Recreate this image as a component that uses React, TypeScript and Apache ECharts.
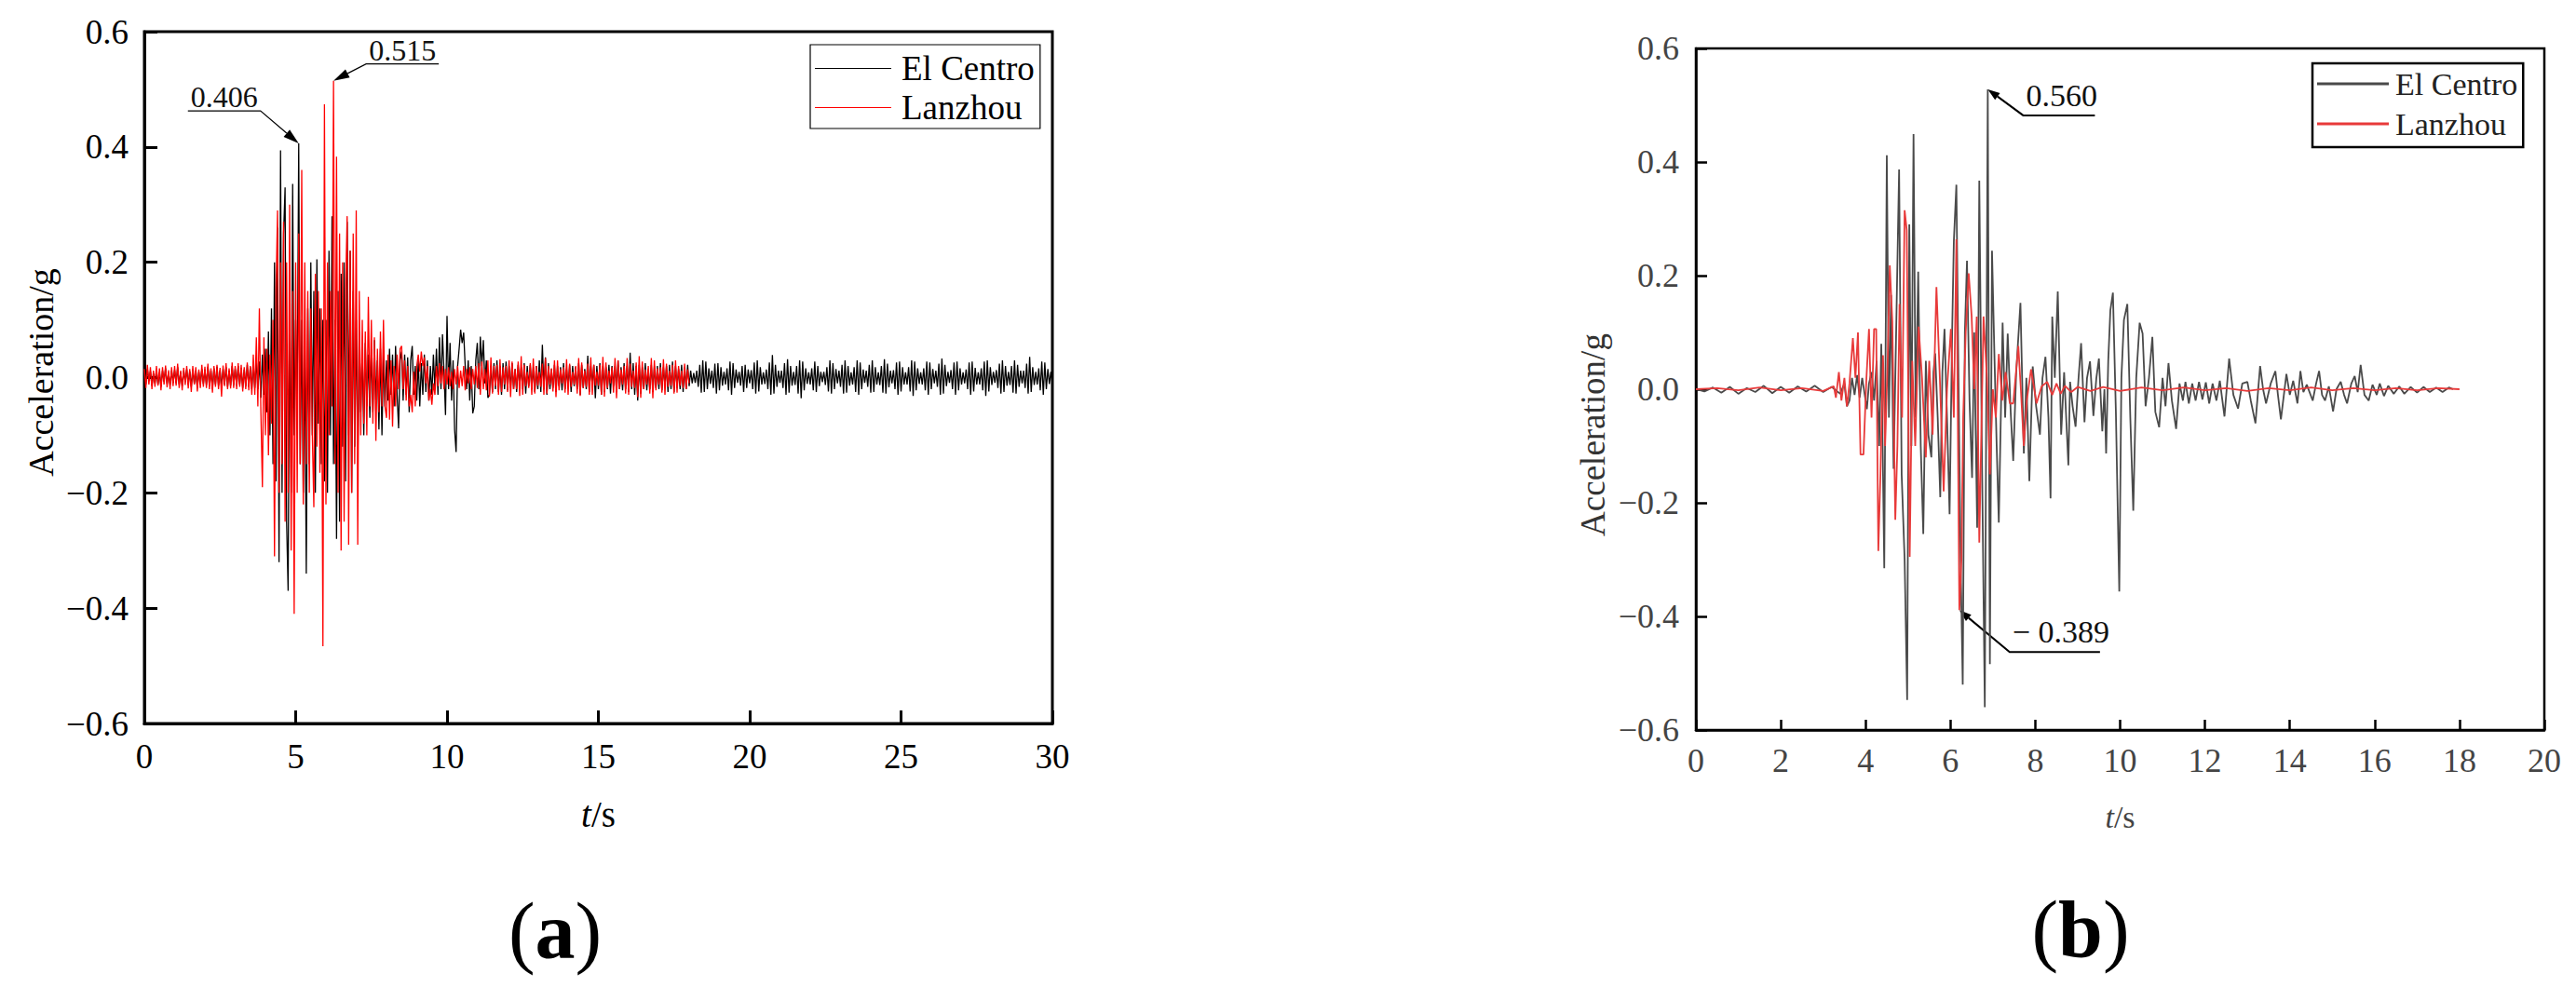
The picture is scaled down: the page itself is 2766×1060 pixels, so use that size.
import React, { useEffect, useRef } from "react";
import * as echarts from "echarts";

const FONT = "'Liberation Serif', 'Times New Roman', serif";

// ---------- Panel (a): sampled every 0.05 s ----------
const DT_A = 0.05;
const elCentroA: number[] = [
  0.008,-0.012,0.015,-0.006,0.011,-0.014,0.007,-0.01,0.013,-0.012,0.009,-0.016,0.012,-0.007,0.016,-0.011,0.008,-0.013,0.012,-0.009,
  0.013,-0.01,0.018,-0.012,0.009,-0.015,0.012,-0.008,0.015,-0.013,0.011,-0.016,0.014,-0.01,0.012,-0.018,0.01,-0.012,0.015,-0.011,
  0.014,-0.013,0.019,-0.015,0.012,-0.02,0.016,-0.012,0.019,-0.014,0.013,-0.017,0.015,-0.012,0.018,-0.016,0.012,-0.014,0.02,-0.013,
  0.015,-0.014,0.02,-0.012,0.017,-0.018,0.014,-0.015,0.022,-0.016,0.018,-0.02,0.025,-0.018,0.03,-0.02,0.028,-0.035,0.04,-0.03,
  0.05,-0.06,0.08,-0.1,0.12,-0.15,0.2,-0.18,0.26,-0.32,0.394,-0.2,0.25,0.33,-0.25,-0.37,0.15,-0.2,0.336,-0.1,
  0.1,-0.05,0.406,-0.15,0.1,-0.2,0.05,-0.34,0.12,-0.15,0.2,-0.1,0.15,-0.2,0.205,-0.08,0.12,-0.15,0.1,-0.18,
  0.1,-0.2,0.22,-0.1,0.28,-0.15,0.1,-0.28,0.15,-0.25,0.18,-0.12,0.2,-0.18,0.27,-0.1,0.22,-0.2,0.15,-0.12,
  0.1,-0.15,0.08,-0.06,0.05,-0.1,0.06,-0.05,0.04,-0.07,0.05,-0.06,0.065,-0.04,0.03,-0.09,0.05,-0.1,0.04,-0.05,
  0.03,-0.04,0.05,-0.03,0.04,-0.05,0.055,-0.03,-0.088,0.03,0.045,-0.04,0.04,-0.03,0.035,-0.06,0.03,0.055,-0.03,0.02,
  -0.04,0.03,-0.05,0.025,-0.03,0.04,-0.025,0.03,-0.04,0.02,-0.03,0.04,-0.02,0.05,-0.03,0.07,-0.02,0.075,0.01,-0.065,
  0.107,-0.02,0.06,-0.04,0.03,-0.09,-0.129,0.02,0.05,0.083,0.06,0.078,0.02,-0.02,0.03,-0.04,0.02,-0.062,-0.05,0.03,
  0.06,-0.02,0.071,0.02,0.065,-0.01,0.03,-0.035,-0.03,0.02,-0.025,0.025,-0.02,0.03,-0.025,0.02,-0.03,0.025,-0.02,0.028,
  -0.022,0.02,-0.018,0.025,-0.02,0.015,-0.025,0.022,-0.015,0.018,-0.02,0.025,-0.028,0.02,-0.015,0.022,-0.02,0.018,-0.025,0.02,
  -0.02,0.03,-0.025,0.057,-0.02,0.035,-0.03,0.025,-0.02,0.015,-0.018,0.022,-0.025,0.02,-0.015,0.018,-0.022,0.025,-0.02,0.015,
  -0.018,0.022,-0.025,0.02,-0.015,0.018,-0.02,0.025,-0.03,0.022,-0.018,0.015,-0.02,0.038,-0.025,0.02,-0.015,0.022,-0.036,0.02,
  -0.02,0.025,-0.03,0.02,-0.025,0.018,-0.02,0.022,-0.028,0.02,-0.015,0.02,-0.025,0.03,-0.02,0.018,-0.022,0.025,-0.02,0.02,
  -0.025,0.043,-0.02,0.025,-0.03,0.02,-0.04,0.022,-0.028,0.018,-0.02,0.025,-0.022,0.015,-0.02,0.022,-0.025,0.02,-0.018,0.02,
  -0.02,0.025,-0.022,0.018,-0.015,0.02,-0.025,0.022,-0.02,0.028,-0.025,0.02,-0.018,0.015,-0.02,0.022,-0.025,0.018,-0.02,0.022,
  -0.015,0.012,-0.01,0.008,-0.009,0.012,-0.016,0.022,-0.026,0.03,-0.025,0.028,-0.02,0.016,-0.011,0.012,-0.018,0.024,-0.028,0.025,
  -0.022,0.018,-0.014,0.01,-0.012,0.016,-0.022,0.028,-0.03,0.025,-0.018,0.014,-0.009,0.01,-0.014,0.02,-0.025,0.022,-0.018,0.014,
  -0.01,0.013,-0.02,0.026,-0.028,0.03,-0.024,0.018,-0.012,0.009,-0.011,0.014,-0.02,0.026,-0.03,0.039,-0.028,0.022,-0.016,0.012,
  -0.009,0.012,-0.018,0.025,-0.03,0.032,-0.026,0.02,-0.014,0.01,-0.013,0.02,-0.028,0.03,-0.036,0.028,-0.022,0.016,-0.011,0.009,
  -0.012,0.016,-0.022,0.028,-0.025,0.02,-0.015,0.01,-0.008,0.01,-0.013,0.018,-0.024,0.03,-0.028,0.025,-0.02,0.015,-0.01,0.012,
  -0.016,0.022,-0.028,0.03,-0.026,0.02,-0.014,0.009,-0.012,0.018,-0.025,0.03,-0.03,0.026,-0.02,0.014,-0.009,0.012,-0.016,0.022,
  -0.026,0.03,-0.025,0.018,-0.012,0.009,-0.013,0.02,-0.026,0.032,-0.028,0.024,-0.017,0.012,-0.01,0.013,-0.02,0.026,-0.03,0.028,
  -0.024,0.018,-0.012,0.009,-0.012,0.018,-0.024,0.03,-0.032,0.028,-0.022,0.016,-0.011,0.009,-0.012,0.016,-0.022,0.028,-0.03,0.026,
  -0.02,0.015,-0.01,0.012,-0.016,0.024,-0.03,0.033,-0.028,0.022,-0.015,0.01,-0.009,0.013,-0.02,0.026,-0.03,0.028,-0.022,0.016,
  -0.012,0.009,-0.01,0.014,-0.02,0.026,-0.03,0.028,-0.024,0.017,-0.012,0.009,-0.012,0.016,-0.022,0.028,-0.032,0.03,-0.024,0.018,
  -0.013,0.01,-0.009,0.013,-0.018,0.024,-0.028,0.03,-0.025,0.02,-0.014,0.01,-0.013,0.02,-0.026,0.03,-0.028,0.022,-0.016,0.012,
  -0.01,0.012,-0.018,0.024,-0.028,0.036,-0.025,0.018,-0.013,0.01,-0.012,0.016,-0.022,0.028,-0.03,0.026,-0.02,0.015,-0.011,0.01,
  -0.012,
];

const lanzhouA: number[] = [
  0.015,-0.018,0.022,-0.012,0.018,-0.02,0.012,-0.016,0.02,-0.014,0.016,-0.022,0.018,-0.012,0.021,-0.017,0.013,-0.02,0.018,-0.015,
  0.02,-0.014,0.024,-0.018,0.012,-0.022,0.017,-0.013,0.02,-0.019,0.015,-0.025,0.02,-0.012,0.018,-0.024,0.014,-0.018,0.022,-0.016,
  0.019,-0.018,0.024,-0.02,0.016,-0.026,0.02,-0.016,0.022,-0.02,0.017,-0.033,0.021,-0.015,0.025,-0.02,0.016,-0.019,0.026,-0.018,
  0.02,-0.02,0.025,-0.016,0.022,-0.024,0.018,-0.02,0.026,-0.022,0.02,-0.03,0.04,-0.03,0.07,-0.05,0.12,-0.06,-0.19,0.07,
  -0.1,0.05,-0.135,0.04,-0.08,0.1,-0.31,0.15,0.29,-0.2,0.2,-0.15,0.27,-0.25,0.2,-0.2,0.3,-0.3,0.15,-0.41,
  0.2,-0.2,0.25,-0.15,0.36,-0.22,0.2,-0.15,0.15,-0.2,0.12,-0.1,-0.225,0.18,-0.12,0.15,-0.165,0.12,-0.466,0.474,
  -0.22,0.2,-0.1,0.15,-0.05,0.515,-0.15,0.383,-0.2,0.25,-0.3,0.2,-0.25,0.15,0.28,-0.29,0.22,-0.2,0.25,-0.15,
  0.29,-0.29,0.15,-0.1,0.1,-0.08,0.08,-0.1,0.14,-0.05,0.1,-0.08,0.07,-0.11,0.05,-0.06,0.08,-0.05,0.1,-0.05,
  -0.07,0.04,-0.073,0.03,-0.085,0.02,-0.05,0.04,-0.02,0.05,0.055,-0.02,0.03,-0.04,0.02,-0.05,-0.03,-0.06,0.01,-0.05,
  0.02,0.04,0.01,0.045,0.02,0.035,-0.01,0.02,-0.04,-0.02,-0.047,-0.01,-0.03,0.02,-0.015,0.025,-0.01,0.02,-0.02,0.015,
  -0.012,0.018,-0.015,0.01,-0.02,0.015,-0.012,0.02,-0.018,0.012,-0.015,0.02,-0.022,0.015,-0.01,0.018,-0.02,0.015,-0.012,0.02,
  -0.018,0.025,-0.03,0.028,-0.02,0.015,-0.022,0.03,-0.033,0.035,-0.028,0.02,-0.015,0.022,-0.03,0.032,-0.025,0.018,-0.012,0.02,
  -0.025,0.03,-0.034,0.028,-0.02,0.015,-0.02,0.028,-0.032,0.037,-0.03,0.022,-0.015,0.01,-0.018,0.025,-0.03,0.033,-0.028,0.02,
  -0.014,0.01,-0.016,0.024,-0.03,0.034,-0.028,0.02,-0.012,0.016,-0.024,0.03,-0.034,0.03,-0.022,0.015,-0.01,0.018,-0.026,0.032,
  -0.03,0.024,-0.016,0.01,-0.012,0.02,-0.028,0.034,-0.032,0.026,-0.018,0.012,-0.016,0.024,-0.03,0.035,-0.03,0.022,-0.014,0.01,
  -0.014,0.022,-0.03,0.036,-0.033,0.026,-0.018,0.012,-0.01,0.018,-0.026,0.034,-0.036,0.03,-0.02,0.014,-0.012,0.02,-0.028,0.034,
  -0.03,0.024,-0.016,0.012,-0.018,0.026,-0.034,0.037,-0.035,0.028,-0.02,0.014,-0.012,0.02,-0.028,0.034,-0.036,0.03,-0.022,0.016,
  -0.012,0.018,-0.026,0.032,-0.03,0.024,-0.016,0.012,-0.014,0.022,-0.028,0.03,-0.026,0.02,-0.014,0.012,-0.018,0.024,-0.02,0.014,
  -0.01,
];

// ---------- Panel (b): [time s, acceleration g] ----------
const elCentroB: [number, number][] = [
  [0,0],[0.2,-0.004],[0.4,0.003],[0.6,-0.006],[0.8,0.004],[1.0,-0.008],[1.2,0.002],[1.4,-0.005],[1.6,0.006],[1.8,-0.007],[2.0,0.004],[2.2,-0.006],[2.4,0.005],[2.6,-0.004],[2.8,0.006],[3.0,-0.005],[3.2,0.004],[3.4,-0.008],
  [3.5,0.01],[3.56,-0.03],[3.62,-0.02],[3.68,0.02],[3.74,-0.01],[3.8,0.025],[3.86,-0.015],[3.92,0.02],[3.98,-0.01],[4.03,-0.035],[4.08,0.01],[4.14,0.03],[4.2,-0.02],[4.26,0.05],[4.32,-0.1],[4.37,0.08],[4.44,-0.315],[4.5,0.412],[4.55,-0.05],[4.6,0.166],[4.66,-0.14],[4.72,0.1],[4.79,0.387],[4.85,-0.15],[4.92,-0.3],[4.98,-0.547],[5.03,0.29],[5.08,-0.1],[5.13,0.449],[5.18,-0.05],[5.24,0.207],[5.3,-0.1],[5.36,-0.255],[5.42,0.05],[5.48,-0.08],[5.55,-0.12],[5.6,0.03],[5.64,0.063],[5.7,-0.05],[5.76,-0.19],[5.81,0.03],[5.86,0.106],[5.92,-0.05],[5.98,-0.22],[6.04,0.1],[6.08,0.26],[6.14,0.36],[6.19,0.02],[6.24,-0.3],[6.29,-0.52],[6.34,0.1],[6.39,0.226],[6.45,-0.02],[6.51,-0.156],[6.56,0.1],[6.63,-0.244],[6.68,0.367],[6.74,-0.1],[6.81,-0.56],[6.88,0.528],[6.93,-0.484],[6.98,0.244],
  [7.04,0.05],[7.09,-0.1],[7.14,-0.235],[7.23,0.117],[7.29,-0.05],[7.35,0.098],[7.42,-0.04],[7.48,-0.126],[7.55,0.03],[7.65,0.152],[7.73,-0.113],[7.79,0.02],[7.86,-0.162],[7.94,0.04],[8.02,-0.03],[8.11,-0.08],[8.17,0.02],[8.24,0.057],[8.31,-0.05],[8.36,-0.192],[8.4,0.128],[8.46,0.02],[8.53,0.172],[8.61,-0.08],[8.68,0.03],[8.78,-0.134],[8.82,0.013],[8.88,-0.03],[8.95,-0.066],[9.02,0.02],[9.08,0.081],[9.16,-0.058],[9.22,0.02],[9.29,0.049],[9.37,-0.047],[9.44,0.02],[9.5,0.054],[9.58,-0.074],[9.63,0.0],[9.67,-0.113],[9.72,0.05],[9.77,0.139],[9.83,0.17],[9.9,-0.04],[9.98,-0.356],
  [10.03,0.02],[10.09,0.122],[10.17,0.15],[10.24,-0.05],[10.31,-0.214],[10.38,0.02],[10.46,0.117],[10.53,0.098],[10.6,-0.03],[10.68,0.02],[10.76,0.092],[10.83,-0.04],[10.92,-0.067],[11.0,0.02],[11.07,-0.03],[11.14,0.046],[11.22,-0.02],[11.32,-0.07],[11.4,0.01],[11.48,-0.02],[11.54,0.013],[11.62,-0.025],[11.7,0.01],[11.78,-0.02],[11.86,0.013],[11.94,-0.018],
  [12.02,0.012],[12.1,-0.025],[12.18,0.01],[12.27,-0.02],[12.35,0.015],[12.46,-0.048],[12.57,0.054],[12.67,-0.01],[12.78,-0.034],[12.88,0.01],[13.0,0.013],[13.08,-0.02],[13.19,-0.06],[13.3,0.041],[13.37,0.0],[13.44,-0.025],[13.55,0.01],[13.66,0.032],[13.72,-0.01],[13.79,-0.053],[13.92,0.027],
  [14.0,-0.01],[14.08,0.015],[14.18,-0.025],[14.25,0.032],[14.32,-0.005],[14.4,0.008],[14.54,-0.02],[14.62,0.01],[14.69,0.032],[14.76,-0.01],[14.83,-0.02],[14.92,0.005],[15.02,-0.039],[15.1,0.0],[15.2,0.013],[15.28,-0.01],[15.35,-0.025],[15.45,0.01],[15.53,0.023],[15.6,-0.005],[15.67,0.043],[15.76,-0.01],[15.86,-0.02],[15.95,0.008],
  [16.05,-0.01],[16.12,0.01],[16.22,-0.012],[16.32,0.006],[16.45,-0.008],[16.58,0.005],[16.7,-0.008],[16.85,0.004],[17.0,-0.006],[17.15,0.004],[17.3,-0.005],[17.45,0.003],[17.6,-0.005],[17.75,0.003],[17.85,0],
];

const lanzhouB: [number, number][] = [
  [0,0],[0.5,0.002],[1.0,-0.002],[1.5,0.003],[2.0,-0.002],[2.5,0.002],[3.0,-0.003],[3.25,0.005],[3.3,-0.015],[3.37,0.03],[3.43,-0.02],[3.5,0.02],[3.56,-0.03],[3.62,0.01],[3.7,0.09],[3.76,0.02],[3.82,0.1],[3.88,-0.115],[3.95,-0.115],
  [4.02,0.02],[4.08,0.106],[4.14,-0.05],[4.2,0.106],[4.25,0.106],[4.3,-0.285],[4.35,-0.15],[4.41,0.06],[4.46,-0.1],[4.52,0.05],[4.57,0.218],[4.63,0.12],[4.7,-0.23],[4.75,-0.1],[4.8,0.15],[4.86,-0.05],[4.92,0.315],[4.97,0.28],
  [5.04,-0.295],[5.1,0.05],[5.17,-0.1],[5.25,0.11],[5.33,0.02],[5.42,-0.12],[5.5,0.05],[5.58,-0.08],[5.67,0.18],[5.75,0.02],[5.84,-0.18],[5.92,0.0],[6.01,0.106],[6.08,-0.05],[6.14,0.264],[6.21,-0.389],[6.26,-0.3],[6.3,-0.05],[6.36,0.1],[6.43,0.204],[6.5,0.128],[6.56,0.0],[6.62,0.128],[6.68,-0.27],[6.78,0.128],[6.86,0.02],[6.93,-0.15],
  [7.0,0.0],[7.07,-0.05],[7.14,0.062],[7.22,-0.02],[7.3,0.03],[7.4,-0.025],[7.48,-0.025],[7.6,0.076],[7.66,0.0],[7.73,-0.1],[7.8,-0.02],[7.9,0.035],[8.03,-0.025],[8.15,0.005],[8.28,0.013],[8.4,-0.01],[8.5,0.01],[8.6,-0.008],[8.7,0.006],[8.85,-0.005],
  [9.0,0.004],[9.3,-0.003],[9.6,0.004],[10.0,-0.003],[10.5,0.003],[11.0,-0.002],[11.5,0.003],[12.0,-0.002],[12.5,0.002],[13.0,-0.003],[13.5,0.002],[14.0,-0.002],[14.5,0.003],[15.0,-0.002],[15.5,0.002],[16.0,-0.002],[16.5,0.002],[17.0,-0.002],[17.5,0.002],[18.0,0],
];

const seriesNames = ["El Centro", "Lanzhou"];
const colorsA = ["#000000", "#ff0000"];
const colorsB = ["#4a4a4a", "#e83a3a"];

const yRange = { min: -0.6, max: 0.6, interval: 0.2 };
const xRangeA = { min: 0, max: 30, interval: 5 };
const xRangeB = { min: 0, max: 20, interval: 2 };

const yTitle = "Acceleration/g";
const xTitle = "{i|t}/s";
const panelLabels = ["a", "b"];

// peak annotations: data point + label text
const annotationsA = [
  { t: 5.1, v: 0.406, text: "0.406" },
  { t: 6.25, v: 0.515, text: "0.515" },
];
const annotationsB = [
  { t: 6.88, v: 0.528, text: "0.560" },
  { t: 6.21, v: -0.389, text: "\u2212 0.389" },
];

const fmtY = (v: number) => (v < -1e-9 ? "\u2212" : "") + Math.abs(v).toFixed(1);

export default function App() {
  const ref = useRef<HTMLDivElement>(null);

  useEffect(() => {
    document.body.style.margin = "0";
    document.body.style.overflow = "hidden";
    if (!ref.current) return;
    const chart = echarts.init(ref.current, null, { renderer: "svg" });

    const xAxisBase = (grid: number, r: any, fs: number, col: string, lw: number, tl: number, margin: number, nameGap: number, nfs: number) => ({
      type: "value",
      gridIndex: grid,
      min: r.min,
      max: r.max,
      interval: r.interval,
      axisLine: { show: true, onZero: false, lineStyle: { color: "#000", width: lw } },
      axisTick: { show: true, inside: true, length: tl, lineStyle: { color: "#000", width: lw } },
      axisLabel: { fontSize: fs, fontFamily: FONT, color: col, margin, showMinLabel: true, showMaxLabel: true },
      splitLine: { show: false },
      name: xTitle,
      nameLocation: "middle",
      nameGap,
      nameTextStyle: {
        fontSize: nfs,
        fontFamily: FONT,
        color: col,
        rich: { i: { fontStyle: "italic", fontSize: nfs, fontFamily: FONT, color: col } },
      },
    });
    const yAxisBase = (grid: number, fs: number, col: string, lw: number, tl: number, margin: number) => ({
      type: "value",
      gridIndex: grid,
      min: yRange.min,
      max: yRange.max,
      interval: yRange.interval,
      axisLine: { show: true, onZero: false, lineStyle: { color: "#000", width: lw } },
      axisTick: { show: true, inside: true, length: tl, lineStyle: { color: "#000", width: lw } },
      axisLabel: { fontSize: fs, fontFamily: FONT, color: col, margin, formatter: fmtY, showMinLabel: true, showMaxLabel: true },
      splitLine: { show: false },
    });

    const lineSeries = (name: string, grid: number, data: any[], color: string, width: number) => ({
      type: "line",
      name,
      xAxisIndex: grid,
      yAxisIndex: grid,
      data,
      symbol: "none",
      showSymbol: false,
      lineStyle: { color, width },
      itemStyle: { color },
      emphasis: { disabled: true },
    });

    chart.setOption({
      animation: false,
      backgroundColor: "#ffffff",
      textStyle: { fontFamily: FONT },
      grid: [
        { left: 155, top: 34, width: 975, height: 743, show: true, borderColor: "#000", borderWidth: 3 },
        { left: 1821, top: 52, width: 911, height: 732, show: true, borderColor: "#000", borderWidth: 2.5 },
      ],
      xAxis: [
        xAxisBase(0, xRangeA, 37, "#000", 3, 14, 17, 78, 39),
        xAxisBase(1, xRangeB, 36, "#444", 2.5, 11, 15, 76, 34),
      ],
      yAxis: [yAxisBase(0, 37, "#000", 3, 14, 17), yAxisBase(1, 36, "#444", 2.5, 12, 18)],
      legend: [
        {
          left: 870,
          top: 48,
          orient: "vertical",
          selectedMode: false,
          icon: "rect",
          itemWidth: 82,
          itemHeight: 1.2,
          itemGap: 5,
          padding: [7, 6, 4, 5],
          borderColor: "#000",
          borderWidth: 1.2,
          borderRadius: 0,
          backgroundColor: "#fff",
          textStyle: { fontSize: 37, fontFamily: FONT, color: "#000", lineHeight: 37, padding: [0, 0, 0, 6] },
          data: seriesNames.map((n, i) => ({ name: n, itemStyle: { color: colorsA[i] } })),
        },
        {
          left: 2483,
          top: 68,
          orient: "vertical",
          selectedMode: false,
          icon: "rect",
          itemWidth: 77,
          itemHeight: 3,
          itemGap: 9,
          padding: [5, 6, 8, 5],
          borderColor: "#000",
          borderWidth: 2.5,
          borderRadius: 0,
          backgroundColor: "#fff",
          textStyle: { fontSize: 34, fontFamily: FONT, color: "#222", lineHeight: 34, padding: [0, 0, 0, 2] },
          data: seriesNames.map((n, i) => ({ name: n, itemStyle: { color: colorsB[i] } })),
        },
      ],
      series: [
        lineSeries(seriesNames[0], 0, elCentroA.map((v, i) => [Math.round(i * DT_A * 100) / 100, v]), colorsA[0], 1.3),
        lineSeries(seriesNames[1], 0, lanzhouA.map((v, i) => [Math.round(i * DT_A * 100) / 100, v]), colorsA[1], 1.3),
        lineSeries(seriesNames[0], 1, elCentroB, colorsB[0], 1.8),
        lineSeries(seriesNames[1], 1, lanzhouB, colorsB[1], 1.8),
      ],
    });

    // annotation leader geometry (pixel offsets relative to the data point)
    const leaderStyleA = [
      { dx: -41, dy: -35, ul: -78, head: 17, headW: 10, lw: 1.2, fs: 32, textDy: 1 },
      { dx: 35, dy: -18, ul: 78, head: 17, headW: 10, lw: 1.2, fs: 32, textDy: 1 },
    ];
    const leaderStyleB = [
      { dx: 38, dy: 28, ul: 77, head: 13, headW: 9, lw: 2, fs: 34, textDy: -4 },
      { dx: 54, dy: 45, ul: 97, head: 13, headW: 9, lw: 2, fs: 34, textDy: -5 },
    ];

    const build = (gridIndex: number, a: any, s: any) => {
      const p = chart.convertToPixel({ gridIndex } as any, [a.t, a.v]) as number[];
      const px = p[0], py = p[1];
      const ex = px + s.dx, ey = py + s.dy;
      const ux = ex + s.ul;
      const len = Math.hypot(s.dx, s.dy);
      const dxn = s.dx / len, dyn = s.dy / len;
      const bx = px + dxn * s.head, by = py + dyn * s.head;
      const nx = -dyn * s.headW / 2, ny = dxn * s.headW / 2;
      return [
        { type: "polyline", silent: true, shape: { points: [[bx, by], [ex, ey], [ux, ey]] }, style: { stroke: "#000", lineWidth: s.lw, fill: null } },
        { type: "polygon", silent: true, shape: { points: [[px, py], [bx + nx, by + ny], [bx - nx, by - ny]] }, style: { fill: "#000" } },
        {
          type: "text",
          silent: true,
          x: Math.min(ex, ux) + 3,
          y: ey + s.textDy,
          style: { text: a.text, fontSize: s.fs, fontFamily: FONT, fill: "#111", align: "left", verticalAlign: "bottom", textAlign: "left", textVerticalAlign: "bottom" },
        },
      ];
    };

    const graphics: any[] = [];
    annotationsA.forEach((a, i) => graphics.push(...build(0, a, leaderStyleA[i])));
    annotationsB.forEach((a, i) => graphics.push(...build(1, a, leaderStyleB[i])));

    // y-axis titles
    graphics.push({
      type: "text", silent: true, x: 44, y: 400, rotation: Math.PI / 2,
      style: { text: yTitle, fontSize: 38, fontFamily: FONT, fill: "#000", align: "center", verticalAlign: "middle", textAlign: "center", textVerticalAlign: "middle" },
    });
    graphics.push({
      type: "text", silent: true, x: 1710, y: 467, rotation: Math.PI / 2,
      style: { text: yTitle, fontSize: 37, fontFamily: FONT, fill: "#333", align: "center", verticalAlign: "middle", textAlign: "center", textVerticalAlign: "middle" },
    });
    // panel labels
    const panelPos = [[596, 1000], [2234, 998]];
    panelLabels.forEach((lab, i) => {
      graphics.push({
        type: "text", silent: true, x: panelPos[i][0], y: panelPos[i][1],
        style: {
          text: `{p|(}{b|${lab}}{p|)}`,
          align: "center", verticalAlign: "middle", textAlign: "center", textVerticalAlign: "middle",
          rich: {
            p: { fontSize: 86, fontFamily: FONT, fill: "#000", color: "#000" },
            b: { fontSize: 86, fontFamily: FONT, fontWeight: "bold", fill: "#000", color: "#000" },
          },
        },
      });
    });

    chart.setOption({ graphic: graphics });

    return () => chart.dispose();
  }, []);

  return <div ref={ref} style={{ width: 2766, height: 1060, position: "absolute", left: 0, top: 0 }} />;
}
